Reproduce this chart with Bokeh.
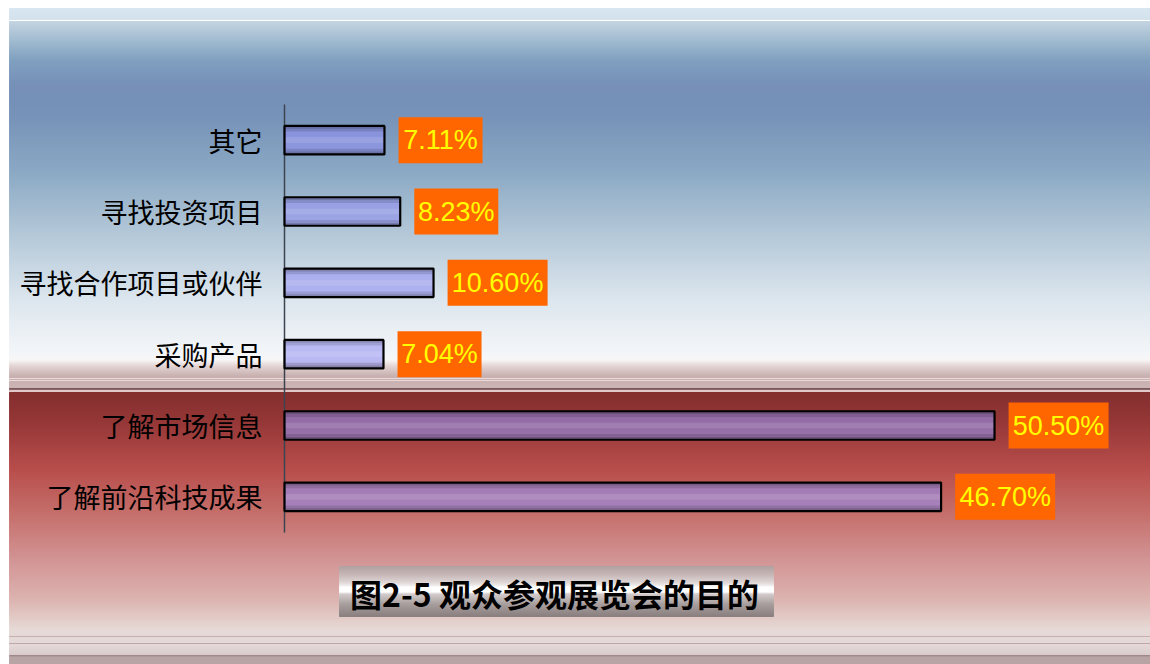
import numpy as np
from bokeh.plotting import figure
from bokeh.models import Range1d, ColumnDataSource
from bokeh.core.properties import value
from bokeh.embed import file_html
from bokeh.resources import INLINE

# ---------------- data ----------------
categories = ["了解前沿科技成果", "了解市场信息", "采购产品", "寻找合作项目或伙伴", "寻找投资项目", "其它"]
percent = [46.70, 50.50, 7.04, 10.60, 8.23, 7.11]
labels = ["46.70%", "50.50%", "7.04%", "10.60%", "8.23%", "7.11%"]
title_text = "图2-5 观众参观展览会的目的"

W, H = 1150, 664
X0_PX = 284          # pixel of value 0
SX = 14.06           # pixels per percent
Y_TOP, Y_BOT = 104, 532
SY = (Y_BOT - Y_TOP) / len(categories)

p = figure(width=W, height=H, output_backend="svg", toolbar_location=None,
           x_range=Range1d(-X0_PX / SX, (W - X0_PX) / SX),
           y_range=Range1d(-(H - Y_BOT) / SY, len(categories) + Y_TOP / SY),
           x_axis_type=None, y_axis_type=None, min_border=0)
p.grid.visible = False
p.outline_line_color = None
p.background_fill_color = "white"
p.border_fill_color = "white"
p.extra_x_ranges = {"px": Range1d(0, W)}
p.extra_y_ranges = {"py": Range1d(H, 0)}

def hex2rgb(h):
    h = h.lstrip("#")
    return np.array([int(h[i:i + 2], 16) for i in (0, 2, 4)], float)

def grad(stops, r0, r1):
    ys = np.array([s[0] for s in stops], float)
    cs = np.array([hex2rgb(s[1]) for s in stops])
    out = []
    for r in range(r0, r1):
        c = [np.interp(r + 0.5, ys, cs[:, k]) for k in range(3)]
        out.append("#%02x%02x%02x" % tuple(int(round(v)) for v in c))
    return out

# ---------------- background ----------------
upper = [(8, "#d8e6f0"), (20, "#d4e2ee"), (21, "#c4d4e2"), (40, "#a2bcd0"), (60, "#80a0c0"),
         (85, "#7690b8"), (115, "#7692b8"), (170, "#8aa8c4"), (235, "#b4c8d8"), (300, "#dce6ee"),
         (340, "#eef2f6"), (356, "#f4f6f8"), (360, "#f8f6f6"), (366, "#e4d4d4"), (376, "#c8b0b0"),
         (392, "#cfb5b5")]
lower = [(392, "#842e2e"), (420, "#943636"), (470, "#b84e4c"), (510, "#c46c68"), (560, "#d29494"),
         (600, "#dcb4b0"), (630, "#e6dad6"), (645, "#e4d8d8"), (664, "#d0c0c0")]
rows = list(range(8, 392)) + list(range(392, 664))
cols = grad(upper, 8, 392) + grad(lower, 392, 664)
lines = {20: "#ffffff", 378: "#eadada", 380: "#eadada", 388: "#7a5858", 389: "#8a6868",
         390: "#e0c8c8", 391: "#e0c8c8", 636: "#c8b0b0", 643: "#c0a8a8", 655: "#a08888",
         656: "#b09898"}
for r in range(657, 664):
    lines[r] = "#b8a4a4"
cols = [lines.get(r, c) for r, c in zip(rows, cols)]
bg = ColumnDataSource(dict(top=rows, bottom=[r + 1 for r in rows], color=cols))
p.quad(left=9, right=W, top="top", bottom="bottom", color="color", source=bg,
       x_range_name="px", y_range_name="py")

# ---------------- axis line ----------------
p.segment(x0=[0], y0=[0], x1=[0], y1=[len(categories)], line_color="#3c4450", line_width=1.5)

# ---------------- bars ----------------
yc = [i + 0.5 for i in range(len(categories))]
h = 0.40
src = ColumnDataSource(dict(y=yc, v=percent, cat=categories, lab=labels))
p.hbar(y="y", left=0, right="v", height=h, fill_color="#9391f2", fill_alpha=0.6,
       line_color=None, source=src)
for off, hh, a in [(0.4, 0.2, 0.12), (-0.4, 0.2, 0.12), (0.45, 0.1, 0.15), (-0.45, 0.1, 0.15)]:
    p.hbar(y=[y + off * h for y in yc], left=0, right=percent, height=hh * h,
           fill_color="black", fill_alpha=a, line_color=None)
p.hbar(y=yc, left=0, right=percent, height=0.2 * h, fill_color="white", fill_alpha=0.12,
       line_color=None)
p.hbar(y="y", left=0, right="v", height=h, fill_color=None, line_color="black",
       line_width=2.2, source=src)

# ---------------- value labels ----------------
gap = 1.0
bw = [(4 + 16 * len(s)) / SX for s in labels]
left = [v + gap for v in percent]
right = [l + w for l, w in zip(left, bw)]
bh = 46 / SY / 2
p.quad(left=left, right=right, top=[y + bh for y in yc], bottom=[y - bh for y in yc],
       fill_color="#ff6600", line_color=None)
p.text(x=[(l + r) / 2 for l, r in zip(left, right)], y=yc, text=labels,
       text_color="#ffff00", text_font=value("Liberation Sans"), text_font_size="27px",
       text_align="center", text_baseline="middle")

# ---------------- category labels ----------------
p.text(x=[-22 / SX] * len(categories), y=yc, text=categories, text_color="black",
       text_font=value("Noto Sans CJK SC"), text_font_size="27px",
       text_align="right", text_baseline="middle")

# ---------------- title box ----------------
tstops = [(566, "#b0a0a0"), (574, "#c4b4b4"), (582, "#ddd4d4"), (586, "#f4f0f0"), (587, "#ffffff"),
          (592, "#ffffff"), (594, "#d4cccc"), (604, "#a89e9e"), (616, "#8a8080")]
trows = list(range(566, 616))
tsrc = ColumnDataSource(dict(top=trows, bottom=[r + 1 for r in trows], color=grad(tstops, 566, 616)))
p.quad(left=339, right=773, top="top", bottom="bottom", color="color", source=tsrc,
       x_range_name="px", y_range_name="py")
p.text(x=[554], y=[592], text=[title_text], text_color="black",
       text_font=value("Noto Sans CJK SC"), text_font_size="32px", text_font_style="bold",
       text_align="center", text_baseline="middle", x_range_name="px", y_range_name="py")

open("out.html", "w").write(file_html(p, INLINE))
